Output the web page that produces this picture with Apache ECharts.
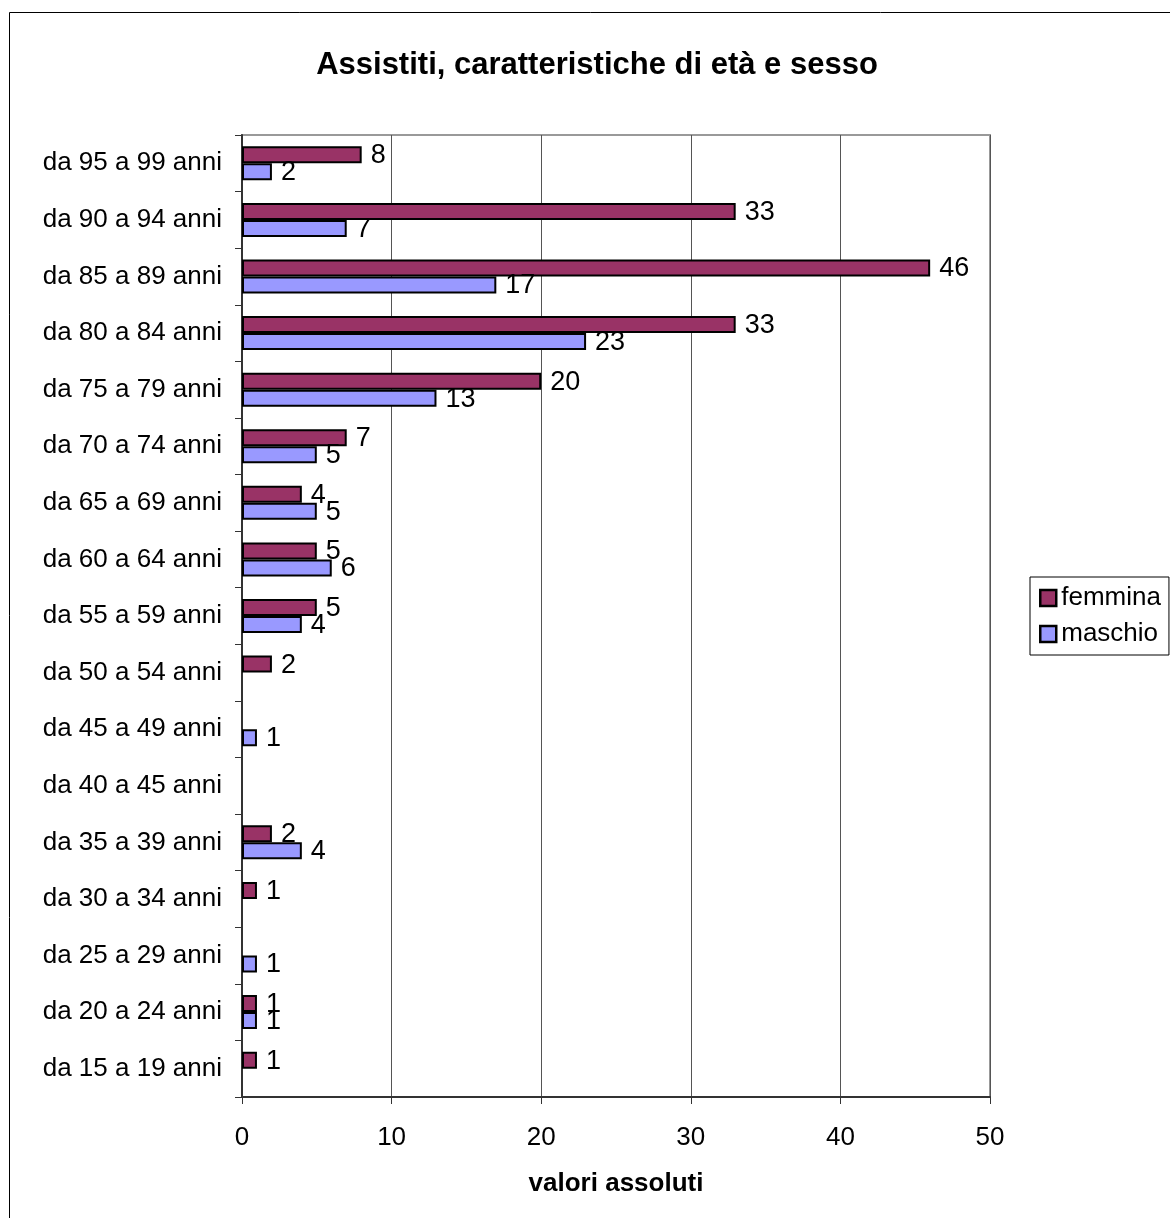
<!DOCTYPE html>
<html><head><meta charset="utf-8">
<script src="https://cdn.jsdelivr.net/npm/echarts@6/dist/echarts.min.js"></script>
<style>html,body{margin:0;padding:0;background:#fff}#c{width:1170px;height:1218px}</style>
</head><body><div id="c"></div>
<script>
const categories = ["da 15 a 19 anni","da 20 a 24 anni","da 25 a 29 anni","da 30 a 34 anni","da 35 a 39 anni","da 40 a 45 anni","da 45 a 49 anni","da 50 a 54 anni","da 55 a 59 anni","da 60 a 64 anni","da 65 a 69 anni","da 70 a 74 anni","da 75 a 79 anni","da 80 a 84 anni","da 85 a 89 anni","da 90 a 94 anni","da 95 a 99 anni"];
const femmina = [1,1,null,1,2,null,null,2,5,5,4,7,20,33,46,33,8];
const maschio = [null,1,1,null,4,null,1,null,4,6,5,5,13,23,17,7,2];
const xTicks = [0,10,20,30,40,50];

const chart = echarts.init(document.getElementById('c'), null, {renderer:'canvas'});
const font = 'Liberation Sans, Arial, sans-serif';
const lbl = {show:true, position:'right', distance:9, offset:[0,1], color:'#000', fontSize:27, fontFamily:font};
chart.setOption({
  animation:false,
  backgroundColor:'#fff',
  title:{text:'Assistiti, caratteristiche di età e sesso', left:592, textAlign:'center', top:45,
    textStyle:{fontSize:31, fontWeight:'bold', fontFamily:font, color:'#000'}},
  graphic:[{type:'rect', shape:{x:9.5,y:12.5,width:1300,height:1300}, style:{fill:'none', stroke:'#000', lineWidth:1}, z:-1}],
  legend:{orient:'vertical', left:1030, top:577, itemWidth:16, itemHeight:16, itemGap:10, icon:'rect',
    padding:[8,8,8,9], borderColor:'#000', borderWidth:1,
    itemStyle:{borderColor:'#000', borderWidth:2.5},
    textStyle:{fontSize:26, fontFamily:font, color:'#000'},
    data:['femmina','maschio']},
  grid:{left:242, top:135, right:180, bottom:121, show:true, borderColor:'#999', borderWidth:2, backgroundColor:'transparent'},
  xAxis:{type:'value', min:0, max:50, interval:10,
    name:'valori assoluti', nameLocation:'middle', nameGap:74,
    nameTextStyle:{fontSize:26, fontWeight:'bold', fontFamily:font, color:'#000'},
    axisLine:{show:true, lineStyle:{color:'#333', width:2}},
    axisTick:{show:true, length:7, lineStyle:{color:'#333', width:1}},
    axisLabel:{fontSize:26, fontFamily:font, color:'#000', margin:28, formatter:v=>xTicks.includes(v)?String(v):''},
    splitLine:{show:true, lineStyle:{color:'#555', width:1}}},
  yAxis:{type:'category', data:categories,
    axisLine:{show:true, lineStyle:{color:'#333', width:2}},
    axisTick:{show:true, length:7, lineStyle:{color:'#333', width:1}},
    axisLabel:{fontSize:26, fontFamily:font, color:'#000', margin:20},
    splitLine:{show:false}},
  series:[
    {name:'femmina', type:'bar', data:femmina, barWidth:17, barGap:'0%',
      itemStyle:{color:'#993366', borderColor:'#000', borderWidth:2}, label:lbl},
    {name:'maschio', type:'bar', data:maschio, barWidth:17, barGap:'0%',
      itemStyle:{color:'#9999FF', borderColor:'#000', borderWidth:2}, label:lbl}
  ]
});
</script></body></html>
